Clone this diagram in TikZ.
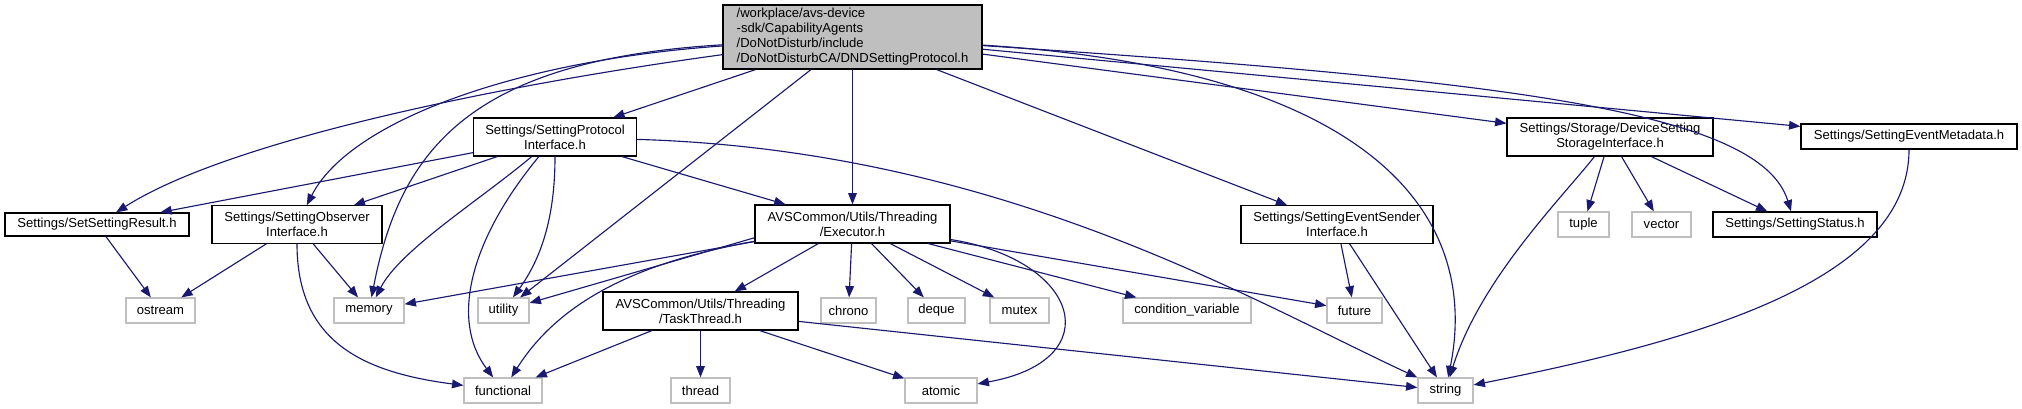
\documentclass[tikz,border=0pt]{standalone}
\usepackage{fontspec}
\setmainfont{Liberation Sans}
\usepackage{tikz}
\usetikzlibrary{arrows.meta}
\definecolor{ejfel}{HTML}{191970}
\definecolor{szurke}{HTML}{BFBFBF}
\tikzset{
  gyoker/.style={draw=black,fill=szurke,line width=0.9pt,inner sep=0pt,align=left,minimum height=48pt},
  fejlec/.style={draw=black,fill=white,line width=0.9pt,inner sep=0pt,align=center,minimum height=28.5pt},
  std/.style={draw=szurke,fill=white,line width=0.9pt,inner sep=0pt,minimum height=18.75pt},
  nyil/.style={ejfel,line width=0.85pt,-{Triangle[length=8.5pt,width=6.5pt]}},
}

\begin{document}
\begin{tikzpicture}[x=0.75pt,y=-0.75pt,font=\fontsize{9.8}{11.25}\selectfont]
  \useasboundingbox (0,0) rectangle (2022,409);
  % fo fajl
  \node[gyoker,minimum width=194.25pt] (dnd) at (852.5,37)
    {/workplace/avs-device\\-sdk/CapabilityAgents\\/DoNotDisturb/include\\/DoNotDisturbCA/DNDSettingProtocol.h};
  % projekt fejlecek
  \node[fejlec,minimum width=122.25pt] (spi) at (555,137) {Settings/SettingProtocol\\Interface.h};
  \node[fejlec,minimum width=138pt,minimum height=17.25pt] (ssr) at (97,224.5) {Settings/SetSettingResult.h};
  \node[fejlec,minimum width=127.5pt,minimum height=28pt] (soi) at (297,224.5) {Settings/SettingObserver\\Interface.h};
  \node[fejlec,minimum width=146.25pt] (exe) at (852.5,224) {AVSCommon/Utils/Threading\\/Executor.h};
  \node[fejlec,minimum width=144pt,minimum height=28pt] (sesi) at (1337,224.5) {Settings/SettingEventSender\\Interface.h};
  \node[fejlec,minimum width=154.5pt] (dssi) at (1610,137) {Settings/Storage/DeviceSetting\\StorageInterface.h};
  \node[fejlec,minimum width=162pt,minimum height=18.75pt] (sem) at (1909,136.5) {Settings/SettingEventMetadata.h};
  \node[fejlec,minimum width=123pt,minimum height=18.75pt] (sst) at (1795,224.5) {Settings/SettingStatus.h};
  \node[fejlec,minimum width=146.25pt] (tth) at (700.5,311) {AVSCommon/Utils/Threading\\/TaskThread.h};
  % rendszer fejlecek
  \node[std,minimum width=38.25pt] (tuple) at (1583.5,224.5) {tuple};
  \node[std,minimum width=44.25pt] (vector) at (1661.5,224.5) {vector};
  \node[std,minimum width=51.75pt] (ostream) at (160.5,310.5) {ostream};
  \node[std,minimum width=52.5pt] (memory) at (369,310.5) {memory};
  \node[std,minimum width=38.25pt] (utility) at (503.5,310.5) {utility};
  \node[std,minimum width=41.25pt] (chrono) at (848.5,310.5) {chrono};
  \node[std,minimum width=42.75pt] (deque) at (936.5,310.5) {deque};
  \node[std,minimum width=44.25pt] (mutex) at (1019.5,310.5) {mutex};
  \node[std,minimum width=96pt] (condvar) at (1187,310.5) {condition\_variable};
  \node[std,minimum width=41.25pt] (future) at (1354.5,310.5) {future};
  \node[std,minimum width=58.5pt] (functional) at (503,390.5) {functional};
  \node[std,minimum width=44.25pt] (thread) at (700.5,390.5) {thread};
  \node[std,minimum width=54pt] (atomic) at (941,390.5) {atomic};
  \node[std,minimum width=41.25pt] (string) at (1445.5,390.5) {string};
  % a fo fajl elei
  \draw[nyil] (dnd) .. controls (500,85) and (230,140) .. (ssr);
  \draw[nyil] (dnd) .. controls (520,60) and (350,120) .. (soi);
  \draw[nyil] (dnd) .. controls (470,60) and (400,150) .. (memory);
  \draw[nyil] (dnd) -- (spi); \draw[nyil] (dnd) -- (utility); \draw[nyil] (dnd) -- (exe);
  \draw[nyil] (dnd) -- (sesi); \draw[nyil] (dnd) -- (dssi); \draw[nyil] (dnd) -- (sem);
  \draw[nyil] (dnd) .. controls (1380,70) and (1480,220) .. (string);
  \draw[nyil] (dnd) .. controls (1500,80) and (1760,110) .. (sst);
  % SettingProtocolInterface
  \draw[nyil] (spi) -- (ssr); \draw[nyil] (spi) -- (soi); \draw[nyil] (spi) -- (exe);
  \draw[nyil] (spi) .. controls (480,200) and (400,250) .. (memory);
  \draw[nyil] (spi) .. controls (470,240) and (450,320) .. (functional);
  \draw[nyil] (spi) .. controls (555,220) and (540,260) .. (utility);
  \draw[nyil] (spi) .. controls (1000,150) and (1250,300) .. (string);
  % megfigyelo es eredmeny
  \draw[nyil] (ssr) -- (ostream);
  \draw[nyil] (soi) -- (ostream); \draw[nyil] (soi) -- (memory);
  \draw[nyil] (soi) .. controls (297,340) and (360,372) .. (functional);
  % Executor
  \draw[nyil] (exe) -- (memory); \draw[nyil] (exe.188) -- (utility);
  \draw[nyil] (exe.190) .. controls (640,262) and (560,300) .. (functional);
  \draw[nyil] (exe) -- (tth); \draw[nyil] (exe) -- (chrono); \draw[nyil] (exe) -- (deque);
  \draw[nyil] (exe) -- (mutex); \draw[nyil] (exe) -- (condvar); \draw[nyil] (exe) -- (future);
  \draw[nyil] (exe) .. controls (1080,260) and (1110,360) .. (atomic);
  % TaskThread
  \draw[nyil] (tth) -- (functional); \draw[nyil] (tth) -- (thread);
  \draw[nyil] (tth) -- (atomic); \draw[nyil] (tth) -- (string);
  % jobb oldal
  \draw[nyil] (sesi) -- (future); \draw[nyil] (sesi) -- (string);
  \draw[nyil] (dssi) .. controls (1560,200) and (1480,280) .. (string);
  \draw[nyil] (dssi) -- (tuple); \draw[nyil] (dssi) -- (vector); \draw[nyil] (dssi) -- (sst);
  \draw[nyil] (sem) .. controls (1909,280) and (1700,340) .. (string);
\end{tikzpicture}
\end{document}
